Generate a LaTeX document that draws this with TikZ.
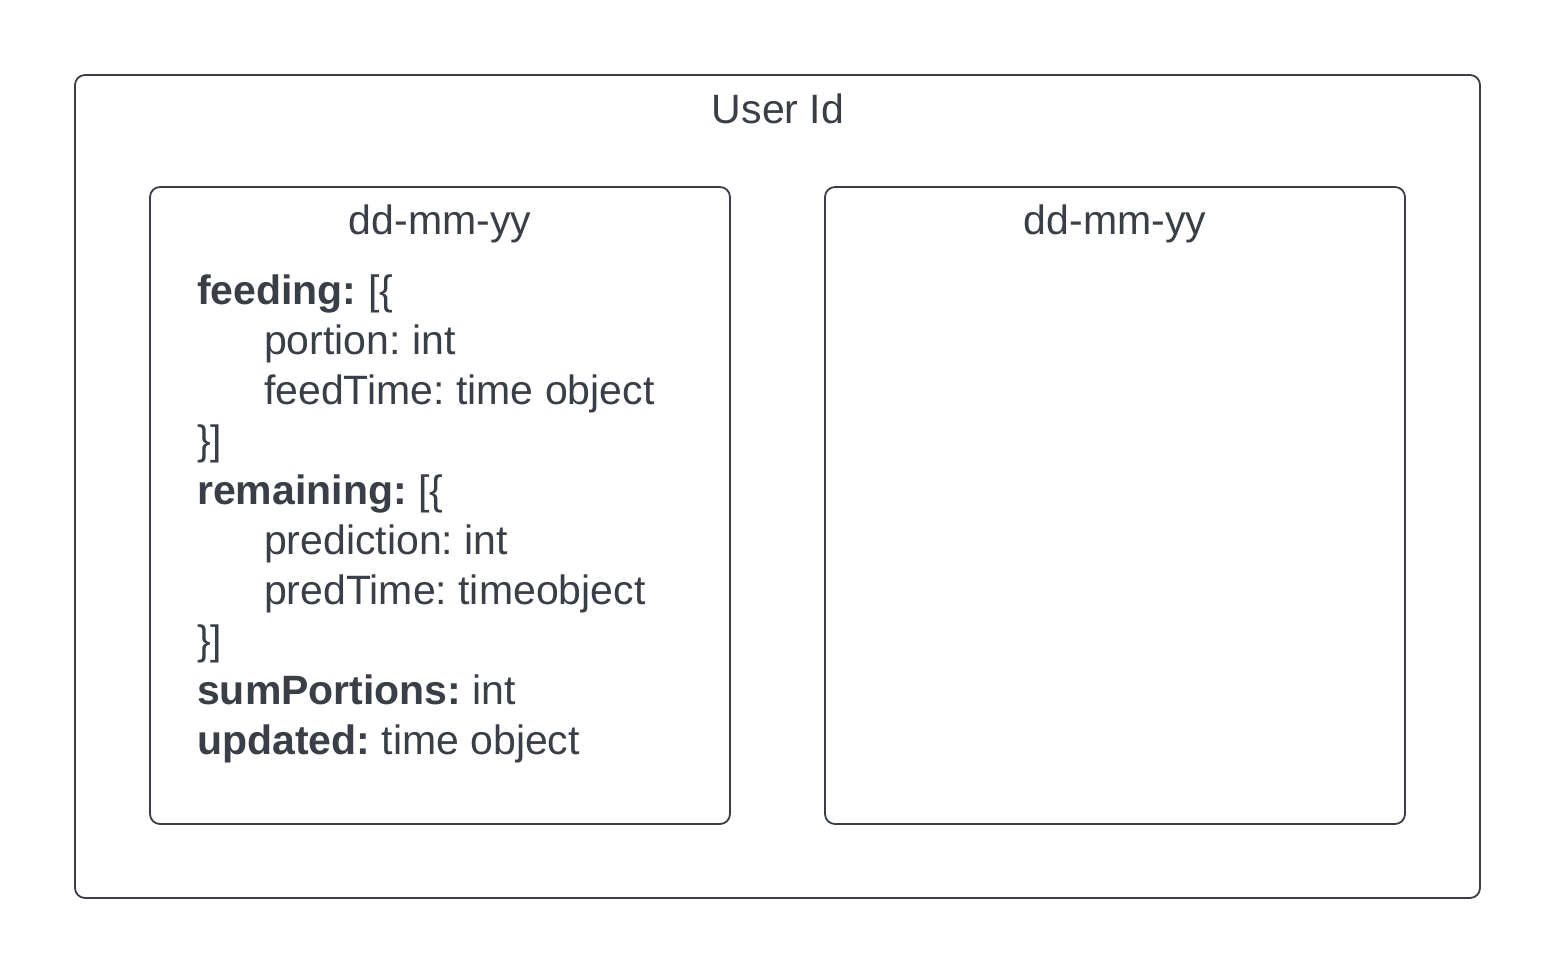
\documentclass[tikz,border=0pt]{standalone}
\usepackage{fontspec}
\setmainfont{Liberation Sans}
\definecolor{ink}{HTML}{3A3F47}
\frenchspacing
\begin{document}
\begin{tikzpicture}[x=1pt,y=-1pt,
  box/.style={draw=ink,line width=1.8pt,rounded corners=10pt},
  txt/.style={inner sep=0pt,anchor=base west,text=ink,font=\fontsize{41}{50}\selectfont},
  ttl/.style={inner sep=0pt,anchor=base,text=ink,font=\fontsize{41}{50}\selectfont}]
\useasboundingbox (0,0) rectangle (1556,975);
\fill[white] (0,0) rectangle (1556,975);
\draw[box] (75,75) rectangle (1480,898);
\draw[box] (150,187) rectangle (730,824);
\draw[box] (825,187) rectangle (1405,824);
\node[ttl] (title) at (778,123) {User Id};
\node[ttl] (d1) at (440,234) {dd-mm-yy};
\node[ttl] (d2) at (1115,234) {dd-mm-yy};
\node[txt] (l1) at (197,304) {\textbf{feeding:} [\{};
\node[txt] (l2) at (264,354) {portion: int};
\node[txt] (l3) at (264,404) {feedTime: time object};
\node[txt] (l4) at (197,454) {\}]};
\node[txt] (l5) at (197,504) {\textbf{remaining:} [\{};
\node[txt] (l6) at (264,554) {prediction: int};
\node[txt] (l7) at (264,604) {predTime: timeobject};
\node[txt] (l8) at (197,654) {\}]};
\node[txt] (l9) at (197,704) {\textbf{sumPortions:} int};
\node[txt] (l10) at (197,754) {\textbf{updated:} time object};
\end{tikzpicture}
\end{document}
